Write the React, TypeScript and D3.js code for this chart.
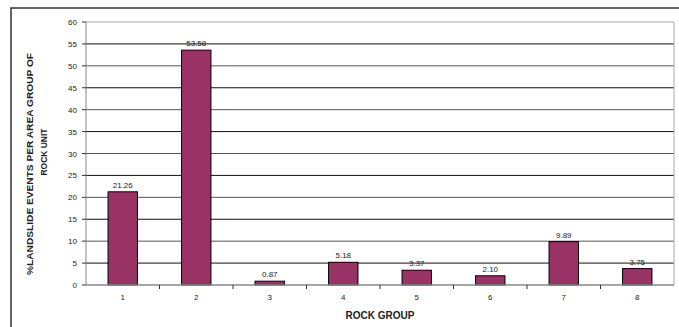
import * as d3 from "d3";

const groups = ["1", "2", "3", "4", "5", "6", "7", "8"];
const percents = [21.26, 53.58, 0.87, 5.18, 3.37, 2.1, 9.89, 3.75];
const yTicks = [0, 5, 10, 15, 20, 25, 30, 35, 40, 45, 50, 55, 60];

const App = () => {
  const width = 679;
  const height = 327;
  const marginLeft = 86;
  const marginRight = 5;
  const marginTop = 22;
  const marginBottom = 42;

  const x = d3
    .scaleBand(groups, [marginLeft, width - marginRight])
    .paddingInner(0.6)
    .paddingOuter(0.3);
  const xCell = d3.scaleBand(groups, [marginLeft, width - marginRight]).padding(0);
  const y = d3.scaleLinear([0, 60], [height - marginBottom, marginTop]);

  const font = "'Liberation Sans', Arial, sans-serif";
  const right = width - marginRight;

  return (
    <svg
      width={width}
      height={height}
      style={{ position: "absolute", left: 0, top: 0, background: "#fff" }}
      fontFamily={font}
    >
      <rect x={11} y={8} width={720} height={400} fill="none" stroke="#333" strokeWidth={1.5} />

      {yTicks
        .filter((t) => t > 0 && t < 60)
        .map((t, i) => (
          <line
            key={t}
            x1={marginLeft}
            x2={right}
            y1={y(t)}
            y2={y(t)}
            stroke={i % 2 === 0 ? "#111" : "#555"}
            strokeWidth={1}
          />
        ))}
      <line x1={marginLeft} x2={right} y1={y(60)} y2={y(60)} stroke="#aaa" strokeWidth={1} />
      <line x1={right} x2={right} y1={y(60)} y2={y(0)} stroke="#aaa" strokeWidth={1} />

      <g fill="#993366" stroke="#000" strokeWidth={1}>
        {percents.map((v, i) => (
          <rect
            key={i}
            x={x(groups[i])!}
            y={y(v)}
            width={x.bandwidth()}
            height={y(0) - y(v)}
          />
        ))}
      </g>

      <g fontSize={8} fill="#222" textAnchor="middle">
        {percents.map((v, i) => (
          <text key={i} x={x(groups[i])! + x.bandwidth() / 2} y={y(v) - 4}>
            {v.toFixed(2)}
          </text>
        ))}
      </g>

      <line x1={marginLeft} x2={marginLeft} y1={y(60)} y2={y(0)} stroke="#888" strokeWidth={1} />
      <line x1={marginLeft} x2={right} y1={y(0)} y2={y(0)} stroke="#888" strokeWidth={1.5} />

      <g fontSize={8} fill="#222" textAnchor="end">
        {yTicks.map((t) => (
          <g key={t}>
            <line x1={marginLeft - 4} x2={marginLeft} y1={y(t)} y2={y(t)} stroke="#333" />
            <text x={marginLeft - 9} y={y(t) + 3}>
              {t}
            </text>
          </g>
        ))}
      </g>

      <g fontSize={8} fill="#222" textAnchor="middle">
        {groups.map((g, i) => (
          <g key={g}>
            {i > 0 && (
              <line x1={xCell(g)!} x2={xCell(g)!} y1={y(0)} y2={y(0) + 4} stroke="#333" />
            )}
            <text x={xCell(g)! + xCell.bandwidth() / 2} y={y(0) + 15}>
              {g}
            </text>
          </g>
        ))}
      </g>

      <text
        x={(marginLeft + right) / 2}
        y={319}
        textAnchor="middle"
        fontSize={10}
        fontWeight="bold"
        fill="#222"
      >
        ROCK GROUP
      </text>

      <g fontSize={9} fontWeight="bold" fill="#222" textAnchor="middle">
        <text transform="translate(33,164) rotate(-90)" textLength={222} lengthAdjust="spacingAndGlyphs">
          %LANDSLIDE EVENTS PER  AREA GROUP OF
        </text>
        <text transform="translate(47,152) rotate(-90)" textLength={47} lengthAdjust="spacingAndGlyphs">
          ROCK UNIT
        </text>
      </g>
    </svg>
  );
};

export default App;
